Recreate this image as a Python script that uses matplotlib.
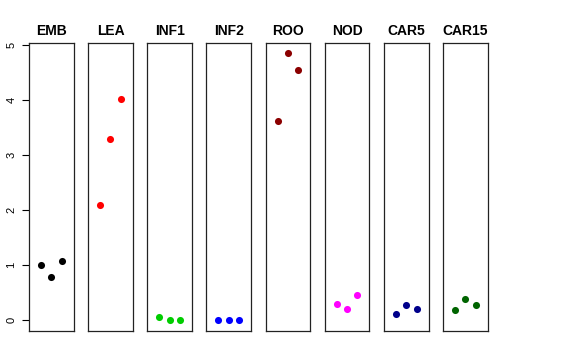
import matplotlib
matplotlib.use("Agg")
import matplotlib.pyplot as plt

plt.rcParams["font.family"] = ["Liberation Sans", "DejaVu Sans"]

# groups and their three replicate values
groups = ["EMB", "LEA", "INF1", "INF2", "ROO", "NOD", "CAR5", "CAR15"]
emb = [1.00, 0.79, 1.07]
lea = [2.10, 3.30, 4.03]
inf1 = [0.055, 0.0, 0.0]
inf2 = [0.0, 0.0, 0.0]
roo = [3.62, 4.85, 4.55]
nod = [0.30, 0.20, 0.46]
car5 = [0.11, 0.28, 0.21]
car15 = [0.19, 0.38, 0.28]
values = [emb, lea, inf1, inf2, roo, nod, car5, car15]
colors = ["black", "red", "#00CD00", "blue", "#8B0000", "magenta", "#00008B", "#006400"]
reps = [1, 2, 3]
yticks = [0, 1, 2, 3, 4, 5]

W, H = 576, 360
fig = plt.figure(figsize=(W / 100, H / 100), dpi=100)

for i, (name, vals, col) in enumerate(zip(groups, values, colors)):
    left = 29 + i * 59.14
    ax = fig.add_axes([left / W, 29 / H, 44.7 / W, 288 / H])
    ax.scatter(reps, vals, s=26, color=col, zorder=3, linewidths=0)
    ax.set_xlim(-0.16, 4.16)
    ax.set_ylim(-0.195, 5.04)
    ax.set_xticks([])
    ax.set_title(name, fontsize=10, fontweight="bold", pad=6)
    for sp in ax.spines.values():
        sp.set_linewidth(0.9)
        sp.set_color("#222222")
    if i == 0:
        ax.set_yticks(yticks)
        ax.tick_params(axis="y", length=5, width=0.8, labelsize=8, pad=4,
                       labelrotation=90)
        for lab in ax.get_yticklabels():
            lab.set_va("center")
    else:
        ax.set_yticks([])

fig.savefig("out.png", dpi=100)
